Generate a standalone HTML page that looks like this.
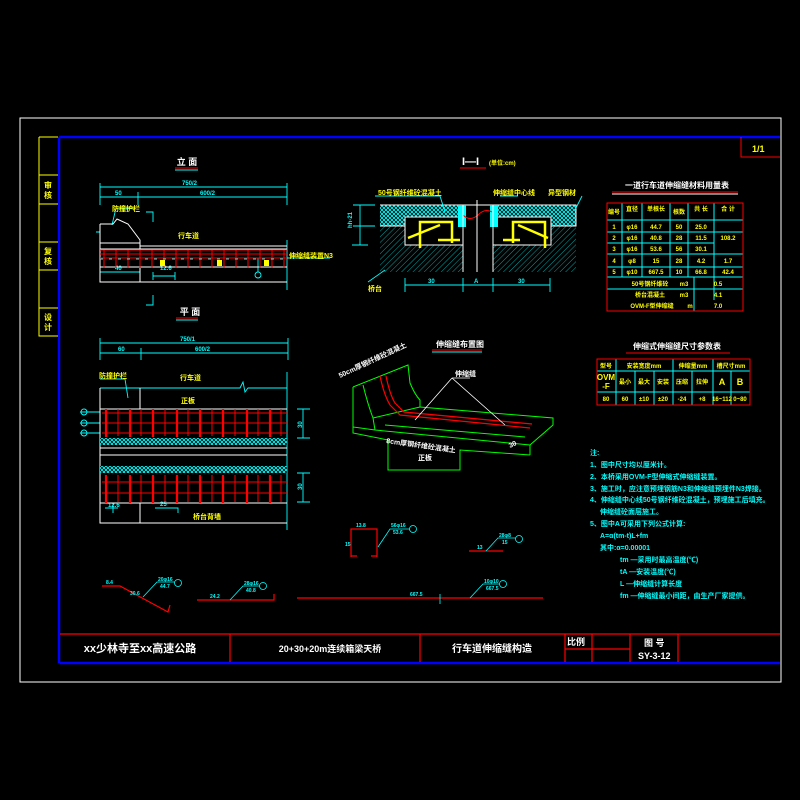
<!DOCTYPE html><html><head><meta charset="utf-8"><style>html,body{margin:0;padding:0;background:#000}svg{display:block}text{font-family:"Liberation Sans","Noto Sans CJK SC",sans-serif;font-weight:bold}</style></head><body>
<svg width="800" height="800" viewBox="0 0 800 800" xmlns="http://www.w3.org/2000/svg">
<defs>
<pattern id="xh" width="4" height="4" patternUnits="userSpaceOnUse"><rect width="4" height="4" fill="#000"/><path d="M0 0L4 4M4 0L0 4" stroke="#0ff" stroke-width="0.9"/></pattern>
<pattern id="dh" width="4" height="4" patternUnits="userSpaceOnUse" patternTransform="rotate(45)"><line x1="0" y1="0" x2="0" y2="4" stroke="#0cc" stroke-width="0.8"/></pattern>
</defs>
<rect width="800" height="800" fill="#000"/>
<rect x="20" y="118" width="761" height="564" fill="none" stroke="#fff" stroke-width="1"/>
<!-- blue frame -->
<path d="M59 137H780M59 137V663M60 663H780" stroke="#00f" stroke-width="2.5" fill="none"/>
<!-- left strip -->
<g stroke="#ff0" stroke-width="1" fill="none"><path d="M39 137V336H58M39 137H58M39 175H58M39 204H58M39 242H58M39 270H58M39 308H58"/></g>
<g fill="#ff0" font-size="8"><text x="44" y="188">审</text><text x="44" y="198">核</text><text x="44" y="254">复</text><text x="44" y="264">核</text><text x="44" y="320">设</text><text x="44" y="330">计</text></g>
<!-- 1/1 -->
<path d="M741 137V157H780" stroke="#f00" fill="none"/><text x="752" y="152" fill="#ff0" font-size="9" font-weight="normal">1/1</text>
<!-- title block -->
<g stroke="#f00" stroke-width="1.2" fill="none"><path d="M60 634H780M230 634V662M420 634V662M565 634V662M592 634V662M630 634V662M678 634V662M565 649H630"/></g>
<g fill="#fff" font-size="11"><text x="140" y="652" text-anchor="middle">xx少林寺至xx高速公路</text><text x="330" y="652" text-anchor="middle" font-size="9">20+30+20m连续箱梁天桥</text><text x="492" y="652" text-anchor="middle" font-size="10">行车道伸缩缝构造</text><text x="567" y="645" font-size="9">比例</text><text x="644" y="646" font-size="9">图 号</text><text x="638" y="659" font-size="9">SY-3-12</text></g>
<!-- 立面 -->
<text x="187" y="165" fill="#fff" font-size="9" text-anchor="middle">立 面</text>
<path d="M175 168H198" stroke="#f00"/><path d="M175 170H198" stroke="#0ff"/>
<g stroke="#0ff" stroke-width="0.9" fill="none"><path d="M100 187H287M100 183V205M287 183V205M100 197H287M138 192V205"/><path d="M100 232H96M100 272H140M140 272V280M153 272V280M175 272V280M153 276H175"/><path d="M287 240V290M287 258H330"/><path d="M146 212H153V222M146 305H153V295"/><circle cx="258" cy="275" r="3"/><path d="M258 272V258"/><path d="M112 225L116 208H135"/></g>
<g fill="#0ff" font-size="6" font-weight="normal"><text x="182" y="185">750/2</text><text x="115" y="195">50</text><text x="200" y="195">600/2</text><text x="115" y="270">40</text><text x="160" y="270">12.6</text></g>
<g stroke="#fff" stroke-width="1" fill="none"><path d="M100 224V282H287M100 224H113L117 219L128 224L140 240V246H287M100 249H287M100 267H287M100 243H140M140 246V282"/></g>
<g stroke="#f00" stroke-width="1"><path d="M100 250H287M100 254H287M100 258H287"/>
<path d="M104 250V268M116 250V268M128 250V268M140 250V268M152 250V268M164 250V268M176 250V268M188 250V268M200 250V268M212 250V268M224 250V268M236 250V268M248 250V268M260 250V268M272 250V268M284 250V268"/></g>
<path d="M100 259H287" stroke="#0ff" stroke-dasharray="3 6"/>
<g fill="#ff0"><rect x="160" y="260" width="5" height="6"/><rect x="217" y="260" width="5" height="6"/><rect x="264" y="260" width="5" height="6"/></g>
<g fill="#ff0" font-size="7"><text x="112" y="211">防撞护栏</text><text x="178" y="238">行车道</text><text x="289" y="258">伸缩缝装置N3</text></g>
<!-- 平面 -->
<text x="190" y="315" fill="#fff" font-size="9" text-anchor="middle">平 面</text>
<path d="M176 318H198" stroke="#f00"/><path d="M176 320H198" stroke="#0ff"/>
<g stroke="#0ff" stroke-width="0.9" fill="none"><path d="M100 343H288M100 338V360M288 338V360M100 353H288M141 348V360M287 372V530"/><path d="M100 379H125L128 398M100 388H240L243 382L245 392L248 388H287"/>
<path d="M80 412H100M80 423H100M80 433H100"/><circle cx="84" cy="412" r="3"/><circle cx="84" cy="423" r="3"/><circle cx="84" cy="433" r="3"/>
<path d="M297 409H310M303 409V438M297 438H310M297 473H310M303 473V502M297 502H310"/>
<path d="M105 508H118M113 503V513M155 508H178V513"/></g>
<g fill="#0ff" font-size="6" font-weight="normal"><text x="180" y="341">750/1</text><text x="118" y="351">60</text><text x="195" y="351">600/2</text><text x="302" y="428" transform="rotate(-90 302 428)">30</text><text x="302" y="490" transform="rotate(-90 302 490)">30</text><text x="108" y="507">12.6</text><text x="160" y="506">25</text></g>
<g stroke="#fff" stroke-width="1" fill="none"><path d="M100 388V523H287M100 409H287M140 388V409M100 448H287M100 455H287M140 503V523M100 503H287"/></g>
<rect x="100" y="438" width="187" height="7" fill="url(#xh)"/><rect x="100" y="466" width="187" height="7" fill="url(#xh)"/>
<g stroke="#f00" stroke-width="1"><path d="M102 413H287M102 423H287M102 433H287M102 482H287M102 493H287"/>
<path d="M118 409V436M141 409V436M165 409V436M188 409V436M212 409V436M235 409V436M258 409V436M281 409V436M118 475V502M141 475V502M165 475V502M188 475V502M212 475V502M235 475V502M258 475V502M281 475V502"/></g>
<g stroke="#f00" stroke-width="2.2"><path d="M106 409V437M130 409V437M153 409V437M177 409V437M200 409V437M223 409V437M247 409V437M270 409V437M106 475V503M130 475V503M153 475V503M177 475V503M200 475V503M223 475V503M247 475V503M270 475V503"/></g>
<g fill="#ff0" font-size="7"><text x="99" y="378">防撞护栏</text><text x="180" y="380">行车道</text><text x="181" y="403">正板</text><text x="193" y="519">桥台背墙</text></g>
<!-- I-I section -->
<text x="462" y="165" fill="#fff" font-size="11" font-weight="normal">I—I</text><text x="489" y="165" fill="#ff0" font-size="6">(单位:cm)</text>
<path d="M460 168H486" stroke="#f00"/>
<rect x="380" y="205" width="83" height="21" fill="url(#xh)"/><rect x="493" y="205" width="83" height="21" fill="url(#xh)"/>
<rect x="380" y="226" width="83" height="46" fill="url(#dh)"/><rect x="493" y="226" width="83" height="46" fill="url(#dh)"/>
<rect x="405" y="217" width="58" height="28" fill="#000" stroke="#fff"/><rect x="493" y="217" width="58" height="28" fill="#000" stroke="#fff"/>
<path d="M380 205H576V226H551M380 226H405" stroke="#fff" fill="none"/>
<rect x="458" y="205" width="8" height="22" fill="#0ff"/><rect x="490" y="205" width="8" height="22" fill="#0ff"/>
<g stroke="#ff0" stroke-width="2.5" fill="none"><path d="M420 248V222H452V243M545 248V222H513V243M438 240H460M503 240H520"/><path d="M408 238L440 225M548 238L518 225"/></g>
<path d="M463 215Q470 222 478 215Q485 208 492 212" stroke="#f00" fill="none"/>
<path d="M477 200V272M463 205V272M493 205V272" stroke="#fff" fill="none"/>
<g stroke="#0ff" stroke-width="0.9" fill="none"><path d="M405 285H550M405 278V292M463 278V292M493 278V292M550 278V292M353 205H375M353 226H375M360 205V245M352 245H368M368 282L385 270"/><path d="M375 196H440L445 212M518 196H500M582 196L575 210"/></g>
<g fill="#0ff" font-size="6" font-weight="normal"><text x="428" y="283">30</text><text x="474" y="283">A</text><text x="518" y="283">30</text><text x="352" y="228" transform="rotate(-90 352 228)">hh-21</text></g>
<g fill="#ff0" font-size="7"><text x="378" y="195">50号钢纤维砼混凝土</text><text x="493" y="195">伸缩缝中心线</text><text x="548" y="195">异型钢材</text><text x="368" y="291">桥台</text></g>
<!-- iso -->
<text x="460" y="347" fill="#fff" font-size="8" text-anchor="middle">伸缩缝布置图</text>
<path d="M432 350H482" stroke="#f00"/><path d="M432 352H482" stroke="#0ff"/>
<g stroke="#0f0" stroke-width="1" fill="none">
<path d="M353 387L408 365L410 383Q415 395 420 400V407L553 418V425L530 445V455"/>
<path d="M353 387V427L375 430L530 445M353 427V433L388 440V470L460 470V450L530 455"/>
<path d="M363 385Q368 405 373 418L375 430M373 418L420 407M385 425L525 437"/>
</g>
<g stroke="#f00" stroke-width="1.2" fill="none"><path d="M380 376Q384 395 390 405L400 415L530 428M386 376Q390 395 395 403L404 412L532 424"/></g>
<path d="M452 378L415 420M452 378L505 425M452 378H470" stroke="#fff" fill="none" stroke-width="0.8"/>
<g fill="#fff" font-size="7"><text x="455" y="376">伸缩缝</text><text x="386" y="443" transform="rotate(8 386 443)">8cm厚钢纤维砼混凝土</text><text x="418" y="460" fill="#fff">正板</text><text x="340" y="378" transform="rotate(-25 340 378)">50cm厚钢纤维砼混凝土</text><text x="510" y="448" transform="rotate(-25 510 448)">30</text></g>
<!-- tables -->
<text x="677" y="188" fill="#fff" font-size="8" text-anchor="middle">一道行车道伸缩缝材料用量表</text>
<path d="M612 192H738" stroke="#f00"/><path d="M612 194H738" stroke="#fff"/>
<g stroke="#0ff" stroke-width="1" fill="none"><path d="M607 220H743M607 232H743M607 243H714M607 254H743M607 267H743M607 277H743M607 289H743M622 203V277M642 203V277M670 203V277M688 203V277M714 203V300M694 277V311"/></g>
<rect x="607" y="203" width="136" height="108" fill="none" stroke="#f00"/>
<g fill="#ff0" font-size="6" text-anchor="middle"><text x="614" y="214">编号</text><text x="632" y="211">直径</text><text x="656" y="211">单根长</text><text x="679" y="214">根数</text><text x="701" y="211">共 长</text><text x="728" y="211">合 计</text>
<text x="614" y="229">1</text><text x="632" y="229">φ16</text><text x="656" y="229">44.7</text><text x="679" y="229">50</text><text x="701" y="229">25.0</text>
<text x="614" y="240">2</text><text x="632" y="240">φ16</text><text x="656" y="240">40.8</text><text x="679" y="240">28</text><text x="701" y="240">11.5</text><text x="728" y="240">108.2</text>
<text x="614" y="251">3</text><text x="632" y="251">φ16</text><text x="656" y="251">53.6</text><text x="679" y="251">56</text><text x="701" y="251">30.1</text>
<text x="614" y="263">4</text><text x="632" y="263">φ8</text><text x="656" y="263">15</text><text x="679" y="263">28</text><text x="701" y="263">4.2</text><text x="728" y="263">1.7</text>
<text x="614" y="274">5</text><text x="632" y="274">φ10</text><text x="656" y="274">667.5</text><text x="679" y="274">10</text><text x="701" y="274">66.8</text><text x="728" y="274">42.4</text>
<text x="650" y="286">50号钢纤维砼</text><text x="684" y="286">m3</text><text x="718" y="286">0.5</text>
<text x="650" y="297">桥台混凝土</text><text x="684" y="297">m3</text><text x="718" y="297">4.1</text>
<text x="652" y="308">OVM-F型伸缩缝</text><text x="690" y="308">m</text><text x="718" y="308">7.0</text></g>
<text x="677" y="349" fill="#fff" font-size="8" text-anchor="middle">伸缩式伸缩缝尺寸参数表</text>
<path d="M626 353H730" stroke="#f00"/>
<g stroke="#0ff" stroke-width="1" fill="none"><path d="M597 371H750M597 392H750M616 359V405M635 371V405M654 371V405M673 359V405M692 371V405M713 359V405M731 371V405"/></g>
<rect x="597" y="359" width="153" height="46" fill="none" stroke="#f00"/>
<g fill="#ff0" font-size="6" text-anchor="middle"><text x="606" y="368">型号</text><text x="644" y="368">安装宽度mm</text><text x="693" y="368">伸缩量mm</text><text x="731" y="368">槽尺寸mm</text><text x="606" y="380" font-size="8" font-weight="normal">OVM</text><text x="606" y="389" font-size="8" font-weight="normal">-F</text><text x="625" y="384">最小</text><text x="644" y="384">最大</text><text x="663" y="384">安装</text><text x="682" y="384">压缩</text><text x="702" y="384">拉伸</text><text x="722" y="385" font-size="9" font-weight="normal">A</text><text x="740" y="385" font-size="9" font-weight="normal">B</text>
<text x="606" y="401">80</text><text x="625" y="401">60</text><text x="644" y="401">±10</text><text x="663" y="401">±20</text><text x="682" y="401">-24</text><text x="702" y="401">+8</text><text x="722" y="401">16~112</text><text x="740" y="401">0~80</text></g>
<!-- notes -->
<g fill="#0ff" font-size="7"><text x="590" y="455">注:</text><text x="590" y="467">1、图中尺寸均以厘米计。</text><text x="590" y="479">2、本桥采用OVM-F型伸缩式伸缩缝装置。</text><text x="590" y="491">3、施工时，应注意预埋钢筋N3和伸缩缝预埋件N3焊接。</text><text x="590" y="502">4、伸缩缝中心线50号钢纤维砼混凝土，预埋施工后填充。</text><text x="600" y="514">伸缩缝砼面层施工。</text><text x="590" y="526">5、图中A可采用下列公式计算:</text><text x="600" y="538">A=α(tm-t)L+fm</text><text x="600" y="550">其中:α=0.00001</text><text x="620" y="562">tm —采用时最高温度(℃)</text><text x="620" y="574">tA —安装温度(℃)</text><text x="620" y="586">L —伸缩缝计算长度</text><text x="620" y="598">fm —伸缩缝最小间距，由生产厂家提供。</text></g>
<!-- bars -->
<g stroke="#f00" stroke-width="1.2" fill="none"><path d="M102 586H120L168 612L170 605"/><path d="M197 600H274V594"/><path d="M297 598H543"/><path d="M469 551H503"/><path d="M351 557V529H377V557M351 556H357M371 556H377"/></g>
<g stroke="#0ff" stroke-width="0.8" fill="none"><path d="M143 597L157 582H175"/><path d="M230 600L243 586H260"/><path d="M470 598L483 584H500"/><path d="M378 547L390 529H410"/><path d="M486 551L498 538H516"/><path d="M440 594V604"/><circle cx="178" cy="583" r="3.5"/><circle cx="263" cy="586" r="3.5"/><circle cx="503" cy="584" r="3.5"/><circle cx="413" cy="529" r="3.5"/><circle cx="519" cy="539" r="3.5"/></g>
<g fill="#0ff" font-size="5" font-weight="normal"><text x="106" y="584">8.4</text><text x="130" y="595">30.6</text><text x="158" y="581">20φ16</text><text x="160" y="588">44.7</text><text x="210" y="598">24.2</text><text x="244" y="585">28φ16</text><text x="246" y="592">40.8</text><text x="410" y="596">667.5</text><text x="484" y="583">10φ10</text><text x="486" y="590">667.5</text><text x="356" y="527">13.8</text><text x="391" y="527">56φ16</text><text x="393" y="534">53.6</text><text x="345" y="546">15</text><text x="477" y="549">13</text><text x="499" y="537">28φ8</text><text x="502" y="544">15</text></g>
</svg>
</body></html>
